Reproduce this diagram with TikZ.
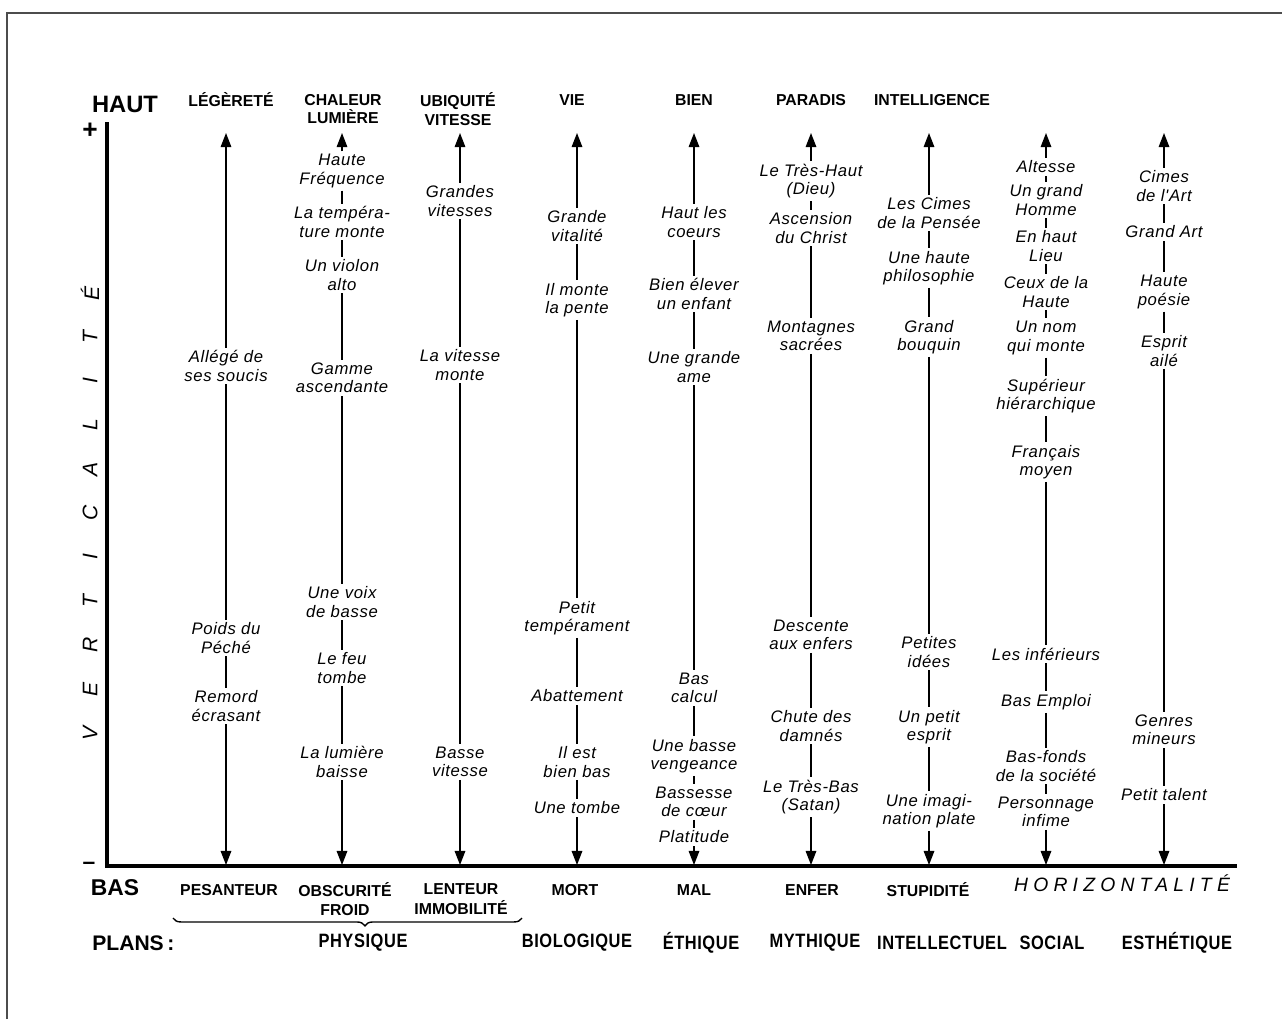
\documentclass[tikz,border=0pt]{standalone}
\usepackage{fontspec}
\setmainfont{Liberation Sans}
\newfontfamily\termfont[LetterSpace=4]{Liberation Sans}
\newfontfamily\widefont[LetterSpace=27]{Liberation Sans}
\newfontfamily\planfont[FakeStretch=0.85,LetterSpace=3]{Liberation Sans}
\usetikzlibrary{arrows.meta,decorations.pathreplacing}

\tikzset{
  term/.style={font=\termfont\itshape\fontsize{9.5}{10.4}\selectfont, align=center, inner sep=1.5pt},
  pole/.style={font=\bfseries\fontsize{9}{10.4}\selectfont, align=center, inner sep=0pt},
  plan/.style={font=\planfont\bfseries\fontsize{11}{12}\selectfont, inner sep=0pt},
  stem/.style={line width=0.8pt},
  stemarrow/.style={stem, -{Triangle[length=8pt,width=6pt]}},
  mainaxis/.style={line width=2.3pt},
}

\begin{document}
\begin{tikzpicture}[x=0.02cm,y=-0.02cm]
\useasboundingbox (0,0) rectangle (1282,1019);

% frame of the scan
\draw[gray!60!black, line width=0.8pt] (7,1019) -- (7,13) -- (1282,13);

% axes
\coordinate (ytop) at (107,122);
\coordinate (origin) at (107,866);
\coordinate (xend) at (1237,866);
\draw[mainaxis] (ytop) -- (origin) -- (xend);

\node[font=\bfseries\fontsize{13.5}{14}\selectfont, inner sep=0pt] (haut) at (125,104) {HAUT};
\node[font=\bfseries\fontsize{15}{15}\selectfont, inner sep=0pt] (plus) at (90,131) {+};
\node[font=\bfseries\fontsize{13}{14}\selectfont, inner sep=0pt] (minus) at (89,866) {–};
\node[font=\bfseries\fontsize{13}{14}\selectfont, inner sep=0pt] (bas) at (115,888) {BAS};
\node[font=\bfseries\fontsize{12}{14}\selectfont, inner sep=0pt, anchor=west] (plans) at (92,943) {PLANS\,:};

\foreach \l [count=\i from 0] in {V,E,R,T,I,C,A,L,I,T,É}
  \node[rotate=90, font=\itshape\fontsize{12}{12}\selectfont, inner sep=0pt] (vert\i) at (90,733-44*\i) {\l};

\node[font=\widefont\itshape\fontsize{11}{12}\selectfont, inner sep=0pt] (horiz) at (1122,883) {HORIZONTALITÉ};

% top poles
\node[pole] (hleg) at (231,100) {LÉGÈRETÉ};
\node[pole] (hcha) at (343,109) {CHALEUR\\LUMIÈRE};
\node[pole] (hubi) at (458,109) {UBIQUITÉ\\VITESSE};
\node[pole] (hvie) at (572,100) {VIE};
\node[pole] (hbien) at (694,100) {BIEN};
\node[pole] (hpar) at (811,100) {PARADIS};
\node[pole] (hint) at (932,100) {INTELLIGENCE};

% bottom poles
\node[pole] (bleg) at (229,890) {PESANTEUR};
\node[pole] (bcha) at (345,899) {OBSCURITÉ\\[0.8pt]FROID};
\node[pole] (bubi) at (461,899) {LENTEUR\\[0.8pt]IMMOBILITÉ};
\node[pole] (bvie) at (575,890) {MORT};
\node[pole] (bbien) at (694,890) {MAL};
\node[pole] (bpar) at (812,890) {ENFER};
\node[pole] (bint) at (928,890) {STUPIDITÉ};

% plans
\node[plan] (pphys) at (363,943) {PHYSIQUE};
\node[plan] (pbio) at (577,943) {BIOLOGIQUE};
\node[plan] (peth) at (701,943) {ÉTHIQUE};
\node[plan] (pmyth) at (815,943) {MYTHIQUE};
\node[plan] (pint) at (942,943) {INTELLECTUEL};
\node[plan] (psoc) at (1052,943) {SOCIAL};
\node[plan] (pest) at (1177,943) {ESTHÉTIQUE};

\coordinate (brl) at (173,918);
\coordinate (brr) at (522,918);
\draw[decorate, decoration={brace, mirror, amplitude=4.5pt, aspect=0.55}, line width=0.8pt] (brl) -- (brr);

% legerete
\node[term] (leg1) at (226,366) {Allégé de\\ses soucis};
\node[term] (leg2) at (226,638) {Poids du\\Péché};
\node[term] (leg3) at (226,706) {Remord\\écrasant};
\coordinate (legT) at (226,133);
\coordinate (legB) at (226,865);
\draw[stemarrow] (leg1) -- (legT);
\draw[stem] (leg1) -- (leg2) -- (leg3);
\draw[stemarrow] (leg3) -- (legB);

% chaleur
\node[term] (cha1) at (342,171) {Haute\\Fréquence};
\node[term] (cha2) at (342,222) {La tempéra-\\ture monte};
\node[term] (cha3) at (342,275) {Un violon\\alto};
\node[term] (cha4) at (342,378) {Gamme\\ascendante};
\node[term] (cha5) at (342,602) {Une voix\\de basse};
\node[term] (cha6) at (342,668) {Le feu\\tombe};
\node[term] (cha7) at (342,762) {La lumière\\baisse};
\coordinate (chaT) at (342,133);
\coordinate (chaB) at (342,865);
\draw[stemarrow] (cha1) -- (chaT);
\draw[stem] (cha1) -- (cha2) -- (cha3) -- (cha4) -- (cha5) -- (cha6) -- (cha7);
\draw[stemarrow] (cha7) -- (chaB);

% ubiquite
\node[term] (ubi1) at (460,201) {Grandes\\vitesses};
\node[term] (ubi2) at (460,365) {La vitesse\\monte};
\node[term] (ubi3) at (460,762) {Basse\\vitesse};
\coordinate (ubiT) at (460,133);
\coordinate (ubiB) at (460,865);
\draw[stemarrow] (ubi1) -- (ubiT);
\draw[stem] (ubi1) -- (ubi2) -- (ubi3);
\draw[stemarrow] (ubi3) -- (ubiB);

% vie
\node[term] (vie1) at (577,226) {Grande\\vitalité};
\node[term] (vie2) at (577,300) {Il monte\\la pente};
\node[term] (vie3) at (577,618) {Petit\\tempérament};
\node[term] (vie4) at (577,696) {Abattement};
\node[term] (vie5) at (577,762) {Il est\\bien bas};
\node[term] (vie6) at (577,808) {Une tombe};
\coordinate (vieT) at (577,133);
\coordinate (vieB) at (577,865);
\draw[stemarrow] (vie1) -- (vieT);
\draw[stem] (vie1) -- (vie2) -- (vie3) -- (vie4) -- (vie5) -- (vie6);
\draw[stemarrow] (vie6) -- (vieB);

% bien
\node[term] (bien1) at (694,222) {Haut les\\coeurs};
\node[term] (bien2) at (694,294) {Bien élever\\un enfant};
\node[term] (bien3) at (694,367) {Une grande\\ame};
\node[term] (bien4) at (694,688) {Bas\\calcul};
\node[term] (bien5) at (694,756) {Une basse\\vengeance};
\node[term] (bien6) at (694,802) {Bassesse\\de cœur};
\node[term] (bien7) at (694,837) {Platitude};
\coordinate (bienT) at (694,133);
\coordinate (bienB) at (694,865);
\draw[stemarrow] (bien1) -- (bienT);
\draw[stem] (bien1) -- (bien2) -- (bien3) -- (bien4) -- (bien5) -- (bien6) -- (bien7);
\draw[stemarrow] (bien7) -- (bienB);

% paradis
\node[term] (par1) at (811,181) {Le Très-Haut\\(Dieu)};
\node[term] (par2) at (811,228) {Ascension\\du Christ};
\node[term] (par3) at (811,336) {Montagnes\\sacrées};
\node[term] (par4) at (811,635) {Descente\\aux enfers};
\node[term] (par5) at (811,726) {Chute des\\damnés};
\node[term] (par6) at (811,797) {Le Très-Bas\\(Satan)};
\coordinate (parT) at (811,133);
\coordinate (parB) at (811,865);
\draw[stemarrow] (par1) -- (parT);
\draw[stem] (par1) -- (par2) -- (par3) -- (par4) -- (par5) -- (par6);
\draw[stemarrow] (par6) -- (parB);

% intelligence
\node[term] (int1) at (929,213) {Les Cimes\\de la Pensée};
\node[term] (int2) at (929,268) {Une haute\\philosophie};
\node[term] (int3) at (929,337) {Grand\\bouquin};
\node[term] (int4) at (929,652) {Petites\\idées};
\node[term] (int5) at (929,727) {Un petit\\esprit};
\node[term] (int6) at (929,811) {Une imagi-\\nation plate};
\coordinate (intT) at (929,133);
\coordinate (intB) at (929,865);
\draw[stemarrow] (int1) -- (intT);
\draw[stem] (int1) -- (int2) -- (int3) -- (int4) -- (int5) -- (int6);
\draw[stemarrow] (int6) -- (intB);

% social
\node[term] (soc1) at (1046,167) {Altesse};
\node[term] (soc2) at (1046,200) {Un grand\\Homme};
\node[term] (soc3) at (1046,246) {En haut\\Lieu};
\node[term] (soc4) at (1046,292) {Ceux de la\\Haute};
\node[term] (soc5) at (1046,338) {Un nom\\qui monte};
\node[term] (soc6) at (1046,396) {Supérieur\\hiérarchique};
\node[term] (soc7) at (1046,462) {Français\\moyen};
\node[term] (soc8) at (1046,654) {Les inférieurs};
\node[term] (soc9) at (1046,702) {Bas Emploi};
\node[term] (soc10) at (1046,766) {Bas-fonds\\de la société};
\node[term] (soc11) at (1046,812) {Personnage\\infime};
\coordinate (socT) at (1046,133);
\coordinate (socB) at (1046,865);
\draw[stemarrow] (soc1) -- (socT);
\draw[stem] (soc1) -- (soc2) -- (soc3) -- (soc4) -- (soc5) -- (soc6) -- (soc7) -- (soc8) -- (soc9) -- (soc10) -- (soc11);
\draw[stemarrow] (soc11) -- (socB);

% esthetique
\node[term] (est1) at (1164,186) {Cimes\\de l'Art};
\node[term] (est2) at (1164,232) {Grand Art};
\node[term] (est3) at (1164,292) {Haute\\poésie};
\node[term] (est4) at (1164,351) {Esprit\\ailé};
\node[term] (est5) at (1164,730) {Genres\\mineurs};
\node[term] (est6) at (1164,795) {Petit talent};
\coordinate (estT) at (1164,133);
\coordinate (estB) at (1164,865);
\draw[stemarrow] (est1) -- (estT);
\draw[stem] (est1) -- (est2) -- (est3) -- (est4) -- (est5) -- (est6);
\draw[stemarrow] (est6) -- (estB);
\end{tikzpicture}
\end{document}
